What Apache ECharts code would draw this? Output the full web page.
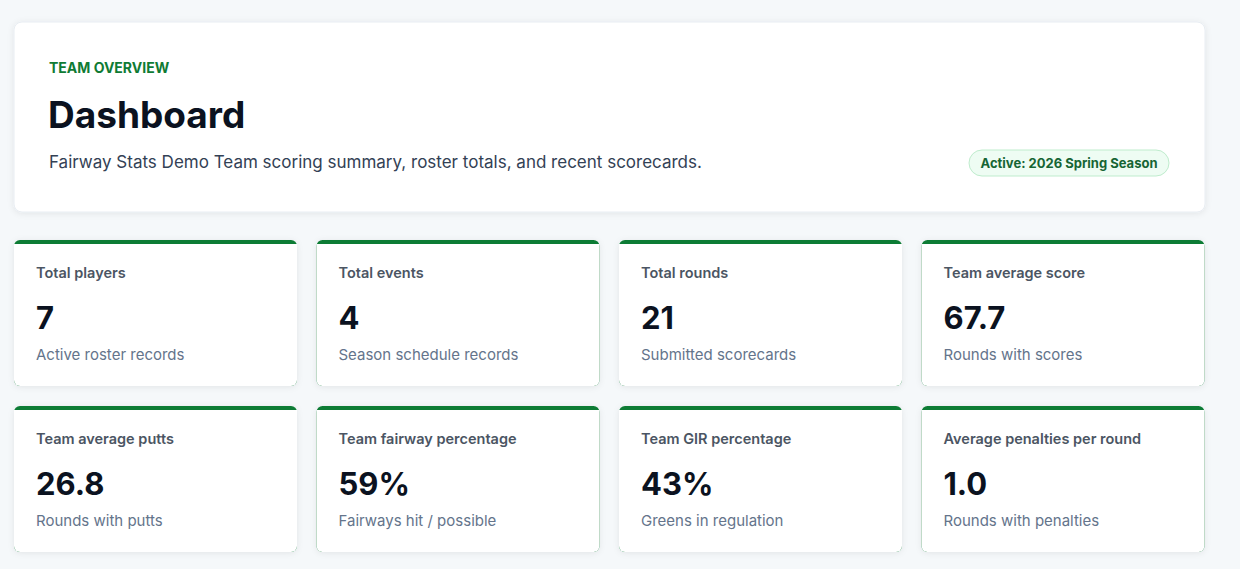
<!DOCTYPE html>
<html>
<head>
<meta charset="utf-8">
<script src="https://cdn.jsdelivr.net/npm/echarts@6/dist/echarts.min.js"></script>
<style>
  html, body { margin: 0; padding: 0; background: #f5f8fa; }
  #main { width: 1240px; height: 569px; }
</style>
</head>
<body>
<div id="main"></div>
<script>
const eyebrow = 'TEAM OVERVIEW'
const title = 'Dashboard'
const subtitle = 'Fairway Stats Demo Team scoring summary, roster totals, and recent scorecards.'
const badge = 'Active: 2026 Spring Season'

const cardLabels = ['Total players', 'Total events', 'Total rounds', 'Team average score',
  'Team average putts', 'Team fairway percentage', 'Team GIR percentage', 'Average penalties per round']
const cardValues = ['7', '4', '21', '67.7', '26.8', '59%', '43%', '1.0']
const cardNotes = ['Active roster records', 'Season schedule records', 'Submitted scorecards', 'Rounds with scores',
  'Rounds with putts', 'Fairways hit / possible', 'Greens in regulation', 'Rounds with penalties']

const font = 'Inter, "Noto Sans", sans-serif'
const green = '#0f7b34'
const shadow = { shadowBlur: 6, shadowColor: 'rgba(15,23,42,0.08)', shadowOffsetY: 1 }

const chart = echarts.init(document.getElementById('main'), null, { renderer: 'svg' })

function header () {
  return [
    { type: 'rect', shape: { x: 14, y: 22, width: 1191, height: 190, r: 8 },
      style: Object.assign({ fill: '#fff', stroke: '#e8edf2', lineWidth: 1 }, shadow) },
    { type: 'text', x: 49, y: 67, style: { text: eyebrow, font: '700 14px ' + font, fill: green, verticalAlign: 'middle' } },
    { type: 'text', x: 48, y: 114, style: { text: title, font: '700 37px ' + font, fill: '#0b1220', verticalAlign: 'middle' } },
    { type: 'text', x: 49, y: 162, style: { text: subtitle, font: '400 17px ' + font, fill: '#334155', verticalAlign: 'middle' } },
    { type: 'rect', shape: { x: 969, y: 150, width: 200, height: 26, r: 13 },
      style: { fill: '#eefcf3', stroke: '#bfeccd', lineWidth: 1 } },
    { type: 'text', x: 1069, y: 163, style: { text: badge, font: '700 13px ' + font, fill: '#166534', align: 'center', verticalAlign: 'middle' } }
  ]
}

function card (i) {
  const col = i % 4, row = Math.floor(i / 4)
  const x = 14 + col * 302.5, y = 240 + row * 166, w = 283, h = 146
  return [
    { type: 'rect', shape: { x, y, width: w, height: h, r: 6 }, style: Object.assign({ fill: green }, shadow) },
    { type: 'rect', shape: { x, y: y + 4, width: w, height: h - 4, r: [0, 0, 6, 6] }, style: { fill: '#fff' } },
    { type: 'text', x: x + 22, y: y + 32, style: { text: cardLabels[i], font: '600 14.5px ' + font, fill: '#4b5563', verticalAlign: 'middle' } },
    { type: 'text', x: x + 22, y: y + 77, style: { text: cardValues[i], font: '700 31px ' + font, fill: '#0b1220', verticalAlign: 'middle' } },
    { type: 'text', x: x + 22, y: y + 114, style: { text: cardNotes[i], font: '400 15px ' + font, fill: '#64748b', verticalAlign: 'middle' } }
  ]
}

let elements = header()
cardLabels.forEach((_, i) => { elements = elements.concat(card(i)) })

chart.setOption({
  backgroundColor: '#f5f8fa',
  graphic: { elements }
})
</script>
</body>
</html>
